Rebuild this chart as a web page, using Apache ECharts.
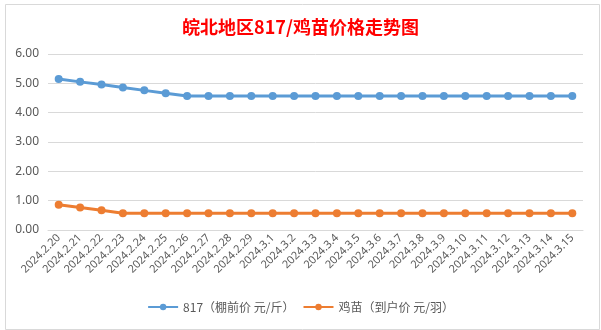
<!DOCTYPE html>
<html>
<head>
<meta charset="utf-8">
<script src="https://cdn.jsdelivr.net/npm/echarts@6/dist/echarts.min.js"></script>
<style>
html,body{margin:0;padding:0;background:#fff;}
#c{width:601px;height:330px;}
</style>
</head>
<body>
<div id="c"></div>
<script>
const titleText = '皖北地区817/鸡苗价格走势图';
const categories = ['2024.2.20','2024.2.21','2024.2.22','2024.2.23','2024.2.24','2024.2.25','2024.2.26','2024.2.27','2024.2.28','2024.2.29','2024.3.1','2024.3.2','2024.3.3','2024.3.4','2024.3.5','2024.3.6','2024.3.7','2024.3.8','2024.3.9','2024.3.10','2024.3.11','2024.3.12','2024.3.13','2024.3.14','2024.3.15'];
const seriesNames = ['817（棚前价 元/斤）','鸡苗（到户价 元/羽）'];
const price817 = [5.15,5.05,4.96,4.86,4.76,4.66,4.57,4.57,4.57,4.57,4.57,4.57,4.57,4.57,4.57,4.57,4.57,4.57,4.57,4.57,4.57,4.57,4.57,4.57,4.57];
const priceChick = [0.86,0.77,0.67,0.57,0.57,0.57,0.57,0.57,0.57,0.57,0.57,0.57,0.57,0.57,0.57,0.57,0.57,0.57,0.57,0.57,0.57,0.57,0.57,0.57,0.57];

const chart = echarts.init(document.getElementById('c'), null, {renderer:'canvas'});
const font = '"Noto Sans", "Noto Sans CJK SC", sans-serif';
chart.setOption({
  backgroundColor:'#ffffff',
  animation:false,
  textStyle:{fontFamily:font},
  graphic:[{
    type:'rect', left:3, top:2, silent:true,
    shape:{width:594, height:325},
    style:{fill:'none', stroke:'#d9d9d9', lineWidth:1}
  }],
  title:{
    text:titleText, left:'center', top:13,
    textStyle:{color:'#ff0000', fontSize:18, fontWeight:'bold', fontFamily:'"Noto Sans CJK SC", sans-serif'}
  },
  legend:{
    bottom:12, left:'center', itemWidth:30, itemHeight:8, itemGap:8,
    textStyle:{color:'#595959', fontSize:12, fontFamily:'"Noto Sans CJK SC", sans-serif'},
    data:seriesNames
  },
  grid:{left:48, right:18, top:54, bottom:100},
  xAxis:{
    type:'category', data:categories, boundaryGap:true,
    axisLine:{show:true, lineStyle:{color:'#d9d9d9'}},
    axisTick:{show:false},
    axisLabel:{rotate:45, color:'#595959', fontSize:11, interval:0, margin:6, fontFamily:font}
  },
  yAxis:{
    type:'value', min:0, max:6, interval:1,
    axisLine:{show:false}, axisTick:{show:false},
    splitLine:{lineStyle:{color:'#d9d9d9'}},
    axisLabel:{color:'#595959', fontSize:12, margin:9, formatter:v=>v.toFixed(2), fontFamily:font}
  },
  series:[
    {name:seriesNames[0], type:'line', data:price817, symbol:'circle', symbolSize:8,
     lineStyle:{width:3, color:'#5b9bd5'}, itemStyle:{color:'#5b9bd5'}},
    {name:seriesNames[1], type:'line', data:priceChick, symbol:'circle', symbolSize:8,
     lineStyle:{width:3, color:'#ed7d31'}, itemStyle:{color:'#ed7d31'}}
  ]
});
</script>
</body>
</html>
